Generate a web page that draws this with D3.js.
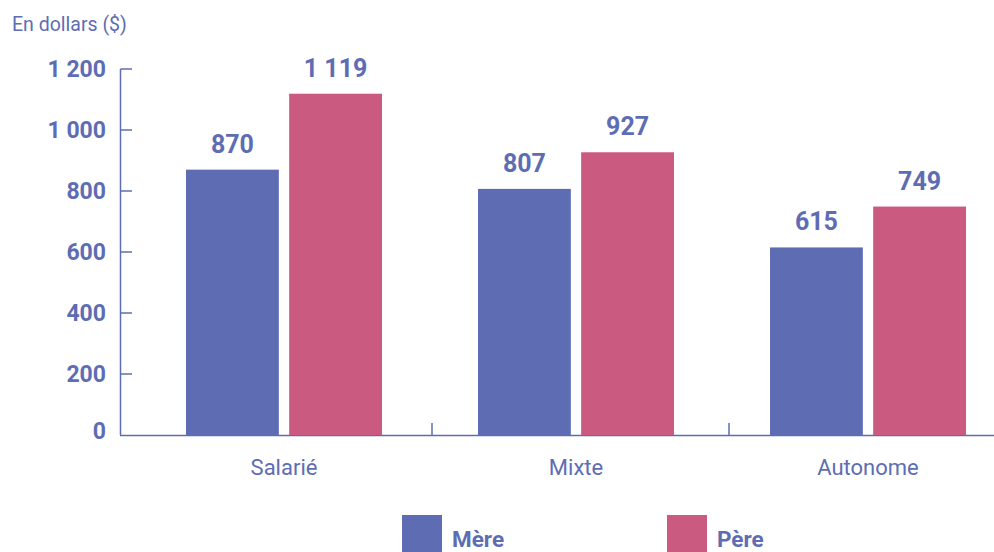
<!DOCTYPE html>
<html>
<head>
<meta charset="utf-8">
<script src="https://cdn.jsdelivr.net/npm/d3@7"></script>
<style>
  body { margin: 0; background: #fff; }
  text { font-family: Roboto, "Noto Sans", sans-serif; }
</style>
</head>
<body>
<div id="wrapper"></div>
<script>
const categories = ["Salarié", "Mixte", "Autonome"]
const seriesNames = ["Mère", "Père"]
const mereValues = [870, 807, 615]
const pereValues = [1119, 927, 749]
const yTicks = [0, 200, 400, 600, 800, 1000, 1200]

const blue = "#5e6db3"
const pink = "#cb5a80"
const colors = [blue, pink]

const data = categories.map((c, i) => ({
  category: c,
  values: [
    { key: seriesNames[0], value: mereValues[i] },
    { key: seriesNames[1], value: pereValues[i] },
  ]
}))

const fmt = n => d3.format(",")(n).replace(/,/g, " ")

const dms = { width: 994, height: 552 }

const svg = d3.select("#wrapper")
  .append("svg")
  .attr("width", dms.width)
  .attr("height", dms.height)

const yScale = d3.scaleLinear()
  .domain([0, 1200])
  .range([435, 69])

const xScale = d3.scaleBand()
  .domain(categories)
  .range([138, 1014])

const subScale = d3.scaleBand()
  .domain(seriesNames)
  .range([0, 196])
  .paddingInner(0.1)

// y axis
const axisX = 120.5
svg.append("line")
  .attr("x1", axisX).attr("x2", axisX)
  .attr("y1", yScale(1200)).attr("y2", 435)
  .attr("stroke", blue).attr("stroke-width", 1.5)

const yAxis = svg.append("g")
yAxis.selectAll("line.tick")
  .data(yTicks.filter(d => d > 0))
  .join("line")
  .attr("x1", axisX).attr("x2", 132)
  .attr("y1", d => yScale(d)).attr("y2", d => yScale(d))
  .attr("stroke", blue).attr("stroke-width", 1.5)

yAxis.selectAll("text")
  .data(yTicks)
  .join("text")
  .attr("x", 106)
  .attr("y", d => d === 0 ? 431 : yScale(d))
  .attr("dy", "0.36em")
  .attr("text-anchor", "end")
  .attr("fill", blue)
  .attr("font-weight", 700)
  .attr("font-size", 23)
  .text(fmt)

// x axis
svg.append("line")
  .attr("x1", 120).attr("x2", 994)
  .attr("y1", 435.5).attr("y2", 435.5)
  .attr("stroke", blue).attr("stroke-width", 1.5)

svg.append("g").selectAll("line")
  .data(categories.slice(1))
  .join("line")
  .attr("x1", (d, i) => xScale(d) + 2 + i * 5).attr("x2", (d, i) => xScale(d) + 2 + i * 5)
  .attr("y1", 423).attr("y2", 435)
  .attr("stroke", blue).attr("stroke-width", 1.5)

svg.append("g").selectAll("text")
  .data(categories)
  .join("text")
  .attr("x", d => xScale(d) + xScale.bandwidth() / 2)
  .attr("y", 475)
  .attr("text-anchor", "middle")
  .attr("fill", blue)
  .attr("font-size", 22)
  .text(d => d)

// bars
const groups = svg.append("g").selectAll("g")
  .data(data)
  .join("g")
  .attr("transform", d => `translate(${xScale(d.category) + xScale.bandwidth() / 2 - 98},0)`)

groups.selectAll("rect")
  .data(d => d.values)
  .join("rect")
  .attr("x", d => subScale(d.key))
  .attr("y", d => yScale(d.value))
  .attr("width", subScale.bandwidth())
  .attr("height", d => 435 - yScale(d.value))
  .attr("fill", (d, i) => colors[i])

groups.selectAll("text")
  .data(d => d.values)
  .join("text")
  .attr("x", d => subScale(d.key) + subScale.bandwidth() / 2)
  .attr("y", d => yScale(d.value) - 17)
  .attr("text-anchor", "middle")
  .attr("fill", blue)
  .attr("font-weight", 700)
  .attr("font-size", 25)
  .text(d => fmt(d.value))

// title
svg.append("text")
  .attr("x", 12)
  .attr("y", 31)
  .attr("fill", blue)
  .attr("font-size", 19.5)
  .text("En dollars ($)")

// legend
const legendX = [402, 667]
const legend = svg.append("g").selectAll("g")
  .data(seriesNames)
  .join("g")
  .attr("transform", (d, i) => `translate(${legendX[i]},515)`)

legend.append("rect")
  .attr("width", 40).attr("height", 40)
  .attr("fill", (d, i) => colors[i])

legend.append("text")
  .attr("x", 50)
  .attr("y", 32)
  .attr("fill", blue)
  .attr("font-weight", 700)
  .attr("font-size", 22.5)
  .text(d => d)
</script>
</body>
</html>
